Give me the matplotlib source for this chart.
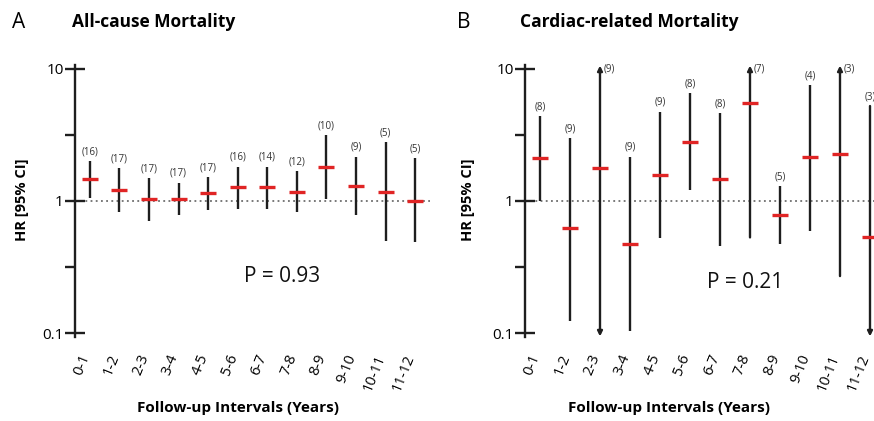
import numpy as np
import matplotlib.pyplot as plt
import matplotlib.transforms as mtransforms

plt.rcParams['font.family'] = ['Open Sans', 'DejaVu Sans']

intervals = ['0-1', '1-2', '2-3', '3-4', '4-5', '5-6', '6-7', '7-8', '8-9',
             '9-10', '10-11', '11-12']

# All-cause mortality: HR, lower CI, upper CI, number of studies
all_hr = [1.48, 1.21, 1.03, 1.03, 1.14, 1.27, 1.27, 1.17, 1.80, 1.29, 1.17, 1.00]
all_lo = [1.06, 0.82, 0.71, 0.78, 0.85, 0.87, 0.87, 0.82, 1.03, 0.78, 0.50, 0.49]
all_hi = [2.01, 1.77, 1.49, 1.38, 1.51, 1.82, 1.82, 1.69, 3.16, 2.17, 2.78, 2.11]
all_n = [16, 17, 17, 17, 17, 16, 14, 12, 10, 9, 5, 5]

# Cardiac-related mortality (inf / 0 = CI runs off the axis)
inf = np.inf
card_hr = [2.11, 0.62, 1.77, 0.47, 1.57, 2.81, 1.46, 5.50, 0.79, 2.14, 2.26, 0.53]
card_lo = [1.00, 0.123, 0.0, 0.104, 0.52, 1.22, 0.46, 0.53, 0.47, 0.59, 0.27, 0.0]
card_hi = [4.40, 2.99, inf, 2.17, 4.75, 6.55, 4.62, inf, 1.30, 7.57, inf, 5.24]
card_n = [8, 9, 9, 9, 9, 8, 8, 7, 5, 4, 3, 3]

YMIN, YMAX = 10 ** -1.03, 10 ** 1.03
BAR = '#1e1e1e'
RED = '#e02424'


def draw_panel(fig, ax, hr, lo, hi, n, pval, ptxt_pos):
    x = np.arange(len(hr))
    ax.set_yscale('log')
    ax.set_xlim(-0.5, 11.5)
    ax.set_ylim(YMIN, YMAX)
    ax.axhline(1, color='#555555', ls=(0, (1.2, 2.2)), lw=1.1, zorder=1)

    for xi, h, l, u, k in zip(x, hr, lo, hi, n):
        up_off = u > YMAX
        dn_off = l < YMIN
        top = YMAX * 0.99 if up_off else u
        bot = YMIN * 1.01 if dn_off else l
        if up_off or dn_off:
            style = {(True, True): '<|-|>', (True, False): '-|>',
                     (False, True): '<|-'}[(up_off, dn_off)]
            ax.annotate('', xy=(xi, top), xytext=(xi, bot),
                        arrowprops=dict(arrowstyle=style, color=BAR, lw=1.7,
                                        mutation_scale=7, shrinkA=0, shrinkB=0),
                        zorder=2)
        else:
            ax.plot([xi, xi], [bot, top], color=BAR, lw=1.7, zorder=2,
                    solid_capstyle='butt')
        ax.plot(xi, h, marker='_', color=RED, ms=11.5, mew=2.4, zorder=3)
        if up_off:
            ax.text(xi + 0.12, top * 0.94, f'({k})', fontsize=7,
                    color='#333333', ha='left', va='center')
        else:
            ax.text(xi, top * 1.07, f'({k})', fontsize=7, color='#333333',
                    ha='center', va='bottom')

    ax.text(ptxt_pos[0], ptxt_pos[1], f'P = {pval}', fontsize=15,
            ha='center', va='center', color='#111111')

    for s in ['top', 'right', 'bottom']:
        ax.spines[s].set_visible(False)
    ax.spines['left'].set_linewidth(1.7)
    ax.spines['left'].set_color(BAR)

    ax.set_yticks([0.1, 1, 10])
    ax.set_yticklabels(['0.1', '1', '10'])
    ax.set_yticks([10 ** -0.5, 10 ** 0.5], minor=True)
    ax.yaxis.set_minor_formatter(plt.NullFormatter())
    ax.tick_params(axis='y', which='major', direction='inout', length=14,
                   width=1.7, color=BAR, labelsize=11, pad=1)
    ax.tick_params(axis='y', which='minor', direction='out', length=7,
                   width=1.7, color=BAR)

    ax.set_xticks(x)
    ax.set_xticklabels(intervals, rotation=68, ha='right', va='center',
                       rotation_mode='anchor', fontsize=10.5)
    ax.tick_params(axis='x', length=0, pad=13)
    shift = mtransforms.ScaledTranslation(-4 / 100, 0, fig.dpi_scale_trans)
    for lab in ax.get_xticklabels():
        lab.set_transform(lab.get_transform() + shift)


fig = plt.figure(figsize=(8.74, 4.21), dpi=100)
ax1 = fig.add_axes([75 / 874, 84 / 421, 355 / 874, 272 / 421])
ax2 = fig.add_axes([525 / 874, 84 / 421, 360 / 874, 272 / 421])

draw_panel(fig, ax1, all_hr, all_lo, all_hi, all_n, '0.93', (6.5, 0.27))
draw_panel(fig, ax2, card_hr, card_lo, card_hi, card_n, '0.21', (6.85, 0.243))

fig.text(12 / 874, 1 - 22 / 421, 'A', fontsize=15, va='center', ha='left')
fig.text(72 / 874, 1 - 22 / 421, 'All-cause Mortality', fontsize=12.5,
         fontweight='bold', va='center', ha='left')
fig.text(457 / 874, 1 - 22 / 421, 'B', fontsize=15, va='center', ha='left')
fig.text(520 / 874, 1 - 22 / 421, 'Cardiac-related Mortality', fontsize=12.5,
         fontweight='bold', va='center', ha='left')

fig.text(22 / 874, 1 - 200 / 421, 'HR [95% CI]', fontsize=10.5,
         fontweight='bold', rotation=90, va='center', ha='center')
fig.text(468 / 874, 1 - 200 / 421, 'HR [95% CI]', fontsize=10.5,
         fontweight='bold', rotation=90, va='center', ha='center')

fig.text(238 / 874, 1 - 408 / 421, 'Follow-up Intervals (Years)', fontsize=11,
         fontweight='bold', va='center', ha='center')
fig.text(669 / 874, 1 - 408 / 421, 'Follow-up Intervals (Years)', fontsize=11,
         fontweight='bold', va='center', ha='center')

fig.savefig('out.png', dpi=100)
